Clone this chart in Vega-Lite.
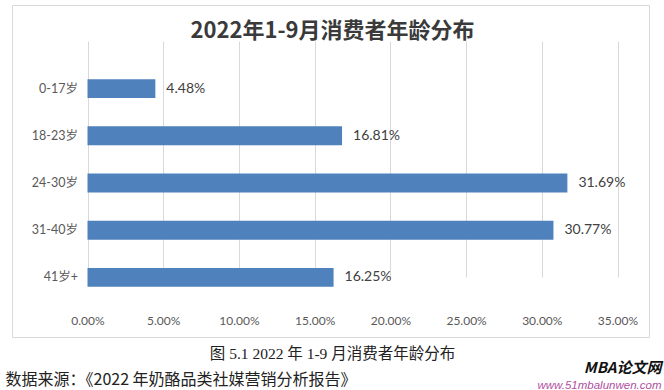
{
  "$schema": "https://vega.github.io/schema/vega-lite/v6.json",
  "autosize": "none",
  "width": 637,
  "height": 332,
  "padding": {"left": 12, "top": 5, "right": 15, "bottom": 53},
  "background": "white",
  "config": {"view": {"stroke": "#d9d9d9", "strokeWidth": 1}, "font": "Lato"},
  "title": {
    "text": "2022年1-9月消费者年龄分布",
    "frame": "group",
    "anchor": "middle",
    "offset": -38,
    "dx": 2,
    "fontSize": 22,
    "font": "Noto Sans CJK SC",
    "fontWeight": "bold",
    "color": "#3a3a3a"
  },
  "data": {
    "values": [
      {"age": "0-17岁", "pct": 0.0448},
      {"age": "18-23岁", "pct": 0.1681},
      {"age": "24-30岁", "pct": 0.3169},
      {"age": "31-40岁", "pct": 0.3077},
      {"age": "41岁+", "pct": 0.1625}
    ]
  },
  "layer": [
    {
      "mark": {"type": "bar", "color": "#4f81bd"},
      "encoding": {
        "y": {
          "field": "age", "type": "nominal", "sort": null,
          "scale": {"range": [60, 296], "paddingInner": 0.6, "paddingOuter": 0.3},
          "axis": {
            "orient": "left", "offset": -75.5, "domain": false, "ticks": false,
            "labelPadding": 10, "labelFontSize": 12.5, "labelColor": "#595959",
            "labelFont": "Lato, Noto Sans CJK SC",
            "title": "数据来源：《2022 年奶酪品类社媒营销分析报告》",
            "titleAngle": 0, "titleAlign": "left", "titleBaseline": "alphabetic",
            "titleX": -82.5, "titleY": 379, "titleFontSize": 16,
            "titleFont": "Noto Sans CJK SC", "titleFontWeight": "normal", "titleColor": "#222222"
          }
        },
        "x": {
          "field": "pct", "type": "quantitative",
          "scale": {"domain": [0, 0.35], "range": [75.5, 605.5], "nice": false},
          "axis": {
            "orient": "bottom", "offset": -36, "format": ".2%",
            "values": [0, 0.05, 0.1, 0.15, 0.2, 0.25, 0.3, 0.35],
            "labelFlush": false,
            "grid": true, "gridColor": "#d9d9d9", "domain": false, "ticks": false,
            "labelPadding": 14, "labelFontSize": 12, "labelColor": "#595959",
            "title": "图 5.1 2022 年 1-9 月消费者年龄分布",
            "titleX": 320, "titleY": 57, "titleAlign": "center", "titleBaseline": "alphabetic",
            "titleFont": "Liberation Serif, Noto Sans CJK SC", "titleFontSize": 15.5,
            "titleFontWeight": "normal", "titleColor": "#222222"
          }
        }
      }
    },
    {
      "mark": {"type": "text", "align": "left", "baseline": "middle", "dx": 11, "fontSize": 14, "color": "#404040", "font": "Lato"},
      "encoding": {
        "y": {
          "field": "age", "type": "nominal", "sort": null,
          "axis": {
            "orient": "right", "labels": false, "domain": false, "ticks": false, "grid": false,
            "title": "MBA论文网", "titleAngle": 0, "titleAlign": "right", "titleBaseline": "alphabetic",
            "titleX": 12, "titleY": 367, "titleFontSize": 15, "titleFont": "Noto Sans CJK SC",
            "titleFontWeight": "bold", "titleFontStyle": "italic", "titleColor": "#111111"
          }
        },
        "x": {
          "field": "pct", "type": "quantitative",
          "axis": {
            "orient": "top", "labels": false, "domain": false, "ticks": false, "grid": false,
            "title": "www.51mbalunwen.com", "titleAlign": "right", "titleBaseline": "alphabetic",
            "titleX": 649, "titleY": 383, "titleFontSize": 11.5, "titleFont": "Liberation Sans",
            "titleFontWeight": "normal", "titleFontStyle": "italic", "titleColor": "#b0509f"
          }
        },
        "text": {"field": "pct", "type": "quantitative", "format": ".2%"}
      }
    }
  ],
  "resolve": {"axis": {"x": "independent", "y": "independent"}}
}
